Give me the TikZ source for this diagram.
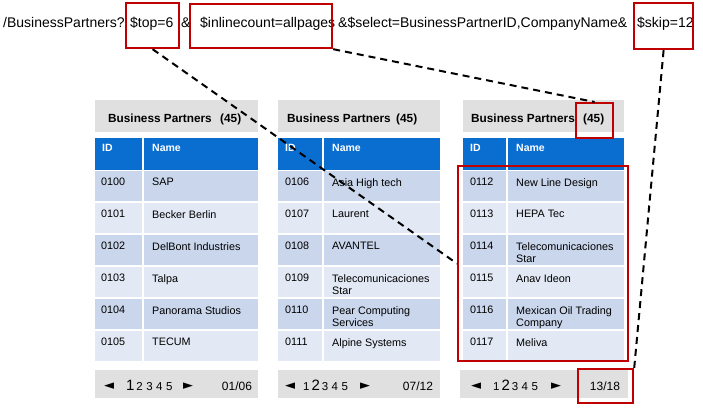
\documentclass[tikz,border=0pt]{standalone}
\usepackage{fontspec}
\setmainfont{Liberation Sans}
\newfontfamily\symfont{DejaVu Sans}
\usetikzlibrary{positioning}

\definecolor{bargray}{HTML}{E0E0E0}
\definecolor{headblue}{HTML}{0A6ED1}
\definecolor{rowdark}{HTML}{C9D6EC}
\definecolor{rowlight}{HTML}{E2E8F4}
\definecolor{markred}{HTML}{C00000}

\newcommand{\rh}{32}
\newcommand{\bigpg}[1]{{\fontsize{15}{15}\selectfont #1}}
\newcommand{\pgap}{\hspace{3.5pt}}

\tikzset{
  query/.style={anchor=base west, inner sep=0pt, font=\fontsize{14}{16}\selectfont},
  bartitle/.style={anchor=base west, inner sep=0pt, font=\bfseries\fontsize{11.8}{14}\selectfont},
  colhead/.style={anchor=base west, inner sep=0pt, text=white, font=\bfseries\fontsize{10.5}{12}\selectfont},
  cell/.style={anchor=north west, inner sep=0pt, align=left, font=\fontsize{10.8}{12.8}\selectfont},
  arrowbtn/.style={inner sep=0pt, font=\symfont\fontsize{13}{13}\selectfont},
  pagelist/.style={anchor=base west, inner sep=0pt, font=\fontsize{11.5}{11.5}\selectfont},
  pagecount/.style={anchor=base, inner sep=0pt, font=\fontsize{12}{12}\selectfont},
  redbox/.style={draw=markred, line width=2.2pt, anchor=north west, inner sep=0pt},
  link/.style={black, line width=2pt, dash pattern=on 7pt off 5pt},
}

\begin{document}
\begin{tikzpicture}[x=1pt, y=-1pt]
\path[use as bounding box, fill=white] (0,0) rectangle (703,407);

% request url
\node[query] (url) at (3,27) {/BusinessPartners?};
\node[query] (topq) at (130,27) {\$top=6};
\node[query] (amp) at (181,27) {\&};
\node[query] (countq) at (200,27) {\$inlinecount=allpages};
\node[query] (selectq) at (338,27) {\&\$select=BusinessPartnerID,CompanyName\&};
\node[query] (skipq) at (637,27) {\$skip=12};

% table 1
\fill[bargray] (95,100) rectangle (258,132);
\node[bartitle] (t1title) at (108,122) {Business Partners};
\node[bartitle] (t1count) at (220,122) {(45)};
\fill[headblue] (95,138) rectangle (258,170);
\node[colhead] (t1id) at (102,151) {ID};
\node[colhead] (t1name) at (152,151) {Name};
\foreach \id/\nm [count=\i from 0] in {0100/SAP, 0101/Becker Berlin, 0102/DelBont Industries,
    0103/Talpa, 0104/Panorama Studios, 0105/TECUM}{
  \pgfmathsetmacro{\yy}{170+\i*\rh}
  \ifodd\i \def\rowc{rowlight}\else \def\rowc{rowdark}\fi
  \fill[\rowc] (95,\yy+1) rectangle (258,\yy+\rh-1);
  \node[cell] (t1id\i) at (101,\yy+8) {\id};
  \node[cell] (t1nm\i) at (152,\yy+8) {\nm};
}
\draw[white, line width=2pt] (143,138) -- (143,362);
\fill[bargray] (95,370) rectangle (258,398);
\node[arrowbtn] (t1prev) at (109,386) {◄};
\node[pagelist] (t1pages) at (126,390) {\bigpg{1}\,2\pgap3\pgap4\pgap5};
\node[arrowbtn] (t1next) at (188,386) {►};
\node[pagecount] (t1pgcount) at (237,390) {01/06};

% table 2
\fill[bargray] (278,100) rectangle (440,132);
\node[bartitle] (t2title) at (287,122) {Business Partners};
\node[bartitle] (t2count) at (396,122) {(45)};
\fill[headblue] (278,138) rectangle (440,170);
\node[colhead] (t2id) at (285,151) {ID};
\node[colhead] (t2name) at (332,151) {Name};
\foreach \id/\nm [count=\i from 0] in {0106/Asia High tech, 0107/Laurent, 0108/AVANTEL,
    0109/Telecomunicaciones\\Star, 0110/Pear Computing\\Services, 0111/Alpine Systems}{
  \pgfmathsetmacro{\yy}{170+\i*\rh}
  \ifodd\i \def\rowc{rowlight}\else \def\rowc{rowdark}\fi
  \fill[\rowc] (278,\yy+1) rectangle (440,\yy+\rh-1);
  \node[cell] (t2id\i) at (285,\yy+8) {\id};
  \node[cell] (t2nm\i) at (332,\yy+8) {\nm};
}
\draw[white, line width=2pt] (323,138) -- (323,362);
\fill[bargray] (278,370) rectangle (440,398);
\node[arrowbtn] (t2prev) at (290,386) {◄};
\node[pagelist] (t2pages) at (303,390) {1\,\bigpg{2}\,3\pgap4\pgap5};
\node[arrowbtn] (t2next) at (365,386) {►};
\node[pagecount] (t2pgcount) at (418,390) {07/12};

% table 3
\fill[bargray] (463,100) rectangle (624,132);
\node[bartitle] (t3title) at (471,122) {Business Partners};
\node[bartitle] (t3count) at (583,122) {(45)};
\fill[headblue] (463,138) rectangle (624,170);
\node[colhead] (t3id) at (470,151) {ID};
\node[colhead] (t3name) at (516,151) {Name};
\foreach \id/\nm [count=\i from 0] in {0112/New Line Design, 0113/HEPA Tec, 0114/Telecomunicaciones\\Star,
    0115/Anav Ideon, 0116/Mexican Oil Trading\\Company, 0117/Meliva}{
  \pgfmathsetmacro{\yy}{170+\i*\rh}
  \ifodd\i \def\rowc{rowlight}\else \def\rowc{rowdark}\fi
  \fill[\rowc] (463,\yy+1) rectangle (624,\yy+\rh-1);
  \node[cell] (t3id\i) at (470,\yy+8) {\id};
  \node[cell] (t3nm\i) at (516,\yy+8) {\nm};
}
\draw[white, line width=2pt] (507,138) -- (507,362);
\fill[bargray] (460,370) rectangle (628,398);
\node[arrowbtn] (t3prev) at (476,386) {◄};
\node[pagelist] (t3pages) at (493,390) {1\,\bigpg{2}\,3\pgap4\pgap5};
\node[arrowbtn] (t3next) at (556,386) {►};
\node[pagecount] (t3pgcount) at (605,390) {13/18};

% red marks
\node[redbox, minimum width=53, minimum height=45] (topbox) at (125,2) {};
\node[redbox, minimum width=142, minimum height=44] (countbox) at (189,3) {};
\node[redbox, minimum width=59, minimum height=46] (skipbox) at (633,2) {};
\node[redbox, minimum width=37, minimum height=35] (t3countbox) at (575,102) {};
\node[redbox, minimum width=170, minimum height=195] (rowsbox) at (457,165) {};
\node[redbox, minimum width=55, minimum height=34] (t3pagebox) at (577,368) {};

% links
\draw[link] (topbox.south) -- (rowsbox.west);
\draw[link] (countbox.south east) -- (t3countbox.north);
\draw[link] (skipbox.south) -- (t3pagebox.north east);
\end{tikzpicture}
\end{document}
